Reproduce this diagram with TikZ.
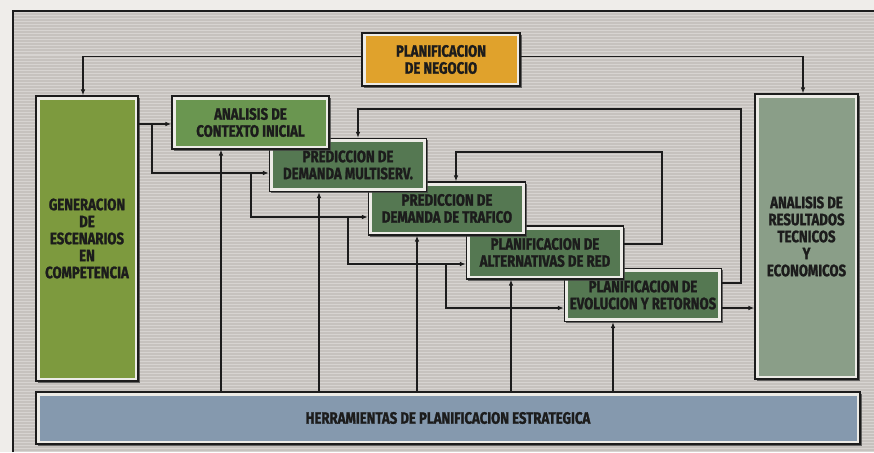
\documentclass[tikz,border=0pt]{standalone}
\usepackage{fontspec}
\usetikzlibrary{arrows.meta,shadows}
\newfontfamily\lblfont{Fira Sans}[FakeStretch=0.8, FakeBold=1.3]

\definecolor{paper}{HTML}{EFEDEA}
\definecolor{bggrey}{HTML}{C6C2BE}
\definecolor{negorange}{HTML}{E0A22C}
\definecolor{gengreen}{HTML}{7D9A3E}
\definecolor{ctxgreen}{HTML}{6A9650}
\definecolor{dkgreen}{HTML}{557852}
\definecolor{resgreen}{HTML}{8A9E88}
\definecolor{herblue}{HTML}{8599AE}
\definecolor{band}{HTML}{ECEBE6}
\definecolor{ink}{HTML}{1C1C1C}

\tikzset{
  box/.style={draw=ink, line width=1.1pt, fill=band,
    minimum width=157pt, minimum height=53pt, inner sep=0pt,
    align=center, text=ink,
    font=\lblfont\bfseries\fontsize{16.5}{17}\selectfont,
    drop shadow={shadow xshift=1.6pt, shadow yshift=-1.6pt, fill=black!75, opacity=.75},
    path picture={\fill[#1]
      ([shift={(3.5pt,3.5pt)}]path picture bounding box.south west) rectangle
      ([shift={(-3.5pt,-3.5pt)}]path picture bounding box.north east);}},
  arr/.style={draw=ink, line width=1.1pt, -{Latex[length=6pt,width=4.5pt]}},
  frameline/.style={draw=ink, line width=1.2pt}
}

\begin{document}
\begin{tikzpicture}[x=1pt,y=-1pt]
\useasboundingbox (0,0) rectangle (874,452);
% paper and striped grey panel
\fill[paper] (0,0) rectangle (874,452);
\fill[bggrey] (13,11) rectangle (874,452);
\foreach \y in {13,16,...,451}
  \draw[white, opacity=.3, line width=1pt] (13,\y) -- (874,\y);
\draw[frameline] (13,452) -- (13,11) -- (874,11);

% cascade of planning stages (later ones drawn first, so earlier ones overlap them)
\node[box=dkgreen] (b5) at (643,295) {PLANIFICACION DE\\EVOLUCION Y RETORNOS};
\node[box=dkgreen] (b4) at (545,252.5) {PLANIFICACION DE\\ALTERNATIVAS DE RED};
\node[box=dkgreen] (b3) at (447,208.5) {PREDICCION DE\\DEMANDA DE TRAFICO};
\node[box=dkgreen] (b2) at (348,165) {PREDICCION DE\\DEMANDA MULTISERV.};
\node[box=ctxgreen] (b1) at (250.5,122.5) {ANALISIS DE\\CONTEXTO INICIAL};

% surrounding blocks
\node[box=negorange, minimum width=158pt] (neg) at (441,59.5) {PLANIFICACION\\DE NEGOCIO};
\node[box=gengreen, minimum width=102pt, minimum height=285pt] (gen) at (87,238.5)
  {GENERACION\\DE\\ESCENARIOS\\EN\\COMPETENCIA};
\node[box=resgreen, minimum width=103pt, minimum height=285pt] (res) at (806.5,236.5)
  {ANALISIS DE\\RESULTADOS\\TECNICOS\\Y\\ECONOMICOS};
\node[box=herblue, minimum width=824pt, minimum height=52pt] (her) at (448,418)
  {HERRAMIENTAS DE PLANIFICACION ESTRATEGICA};

% business planning feeds both side blocks
\draw[arr] ([yshift=3pt]neg.west) -| ([xshift=-4pt]gen.north);
\draw[arr] ([yshift=3pt]neg.east) -| ([xshift=-3.5pt]res.north);

% scenario generation feeds each stage in turn
\coordinate (a1) at ([yshift=-1.5pt]b1.west);
\coordinate (a2) at ([yshift=-8pt]b2.west);
\coordinate (a3) at ([yshift=-8.5pt]b3.west);
\coordinate (a4) at ([yshift=-11.5pt]b4.west);
\coordinate (a5) at ([yshift=-13pt]b5.west);
\coordinate (k1) at (152,124);
\coordinate (k2) at (251,173);
\coordinate (k3) at (348,217);
\coordinate (k4) at (446,264);
\draw[arr] (gen.east |- a1) -- (a1);
\draw[arr] (k1) |- (a2);
\draw[arr] (k2) |- (a3);
\draw[arr] (k3) |- (a4);
\draw[arr] (k4) |- (a5);

% results to the analysis block
\coordinate (a6) at ([yshift=-13pt]b5.east);
\draw[arr] (a6) -- (a6 -| res.west);

% feedback loops
\coordinate (f1) at ([yshift=12pt]b5.east);
\coordinate (c1) at (741,109);
\coordinate (d1) at ([xshift=10pt]b2.north);
\draw[arr] (f1) -| (c1) -| (d1);
\coordinate (f2) at ([yshift=8.5pt]b4.east);
\coordinate (c2) at (662,152);
\coordinate (d2) at ([xshift=9pt]b3.north);
\draw[arr] (f2) -| (c2) -| (d2);

% planning tools support every stage
\coordinate (t1) at ([xshift=-29.5pt]b1.south);
\coordinate (t2) at ([xshift=-29pt]b2.south);
\coordinate (t3) at ([xshift=-30pt]b3.south);
\coordinate (t4) at ([xshift=-34pt]b4.south);
\coordinate (t5) at ([xshift=-30pt]b5.south);
\foreach \t in {t1,t2,t3,t4,t5}
  \draw[arr] (her.north -| \t) -- (\t);
\end{tikzpicture}
\end{document}
